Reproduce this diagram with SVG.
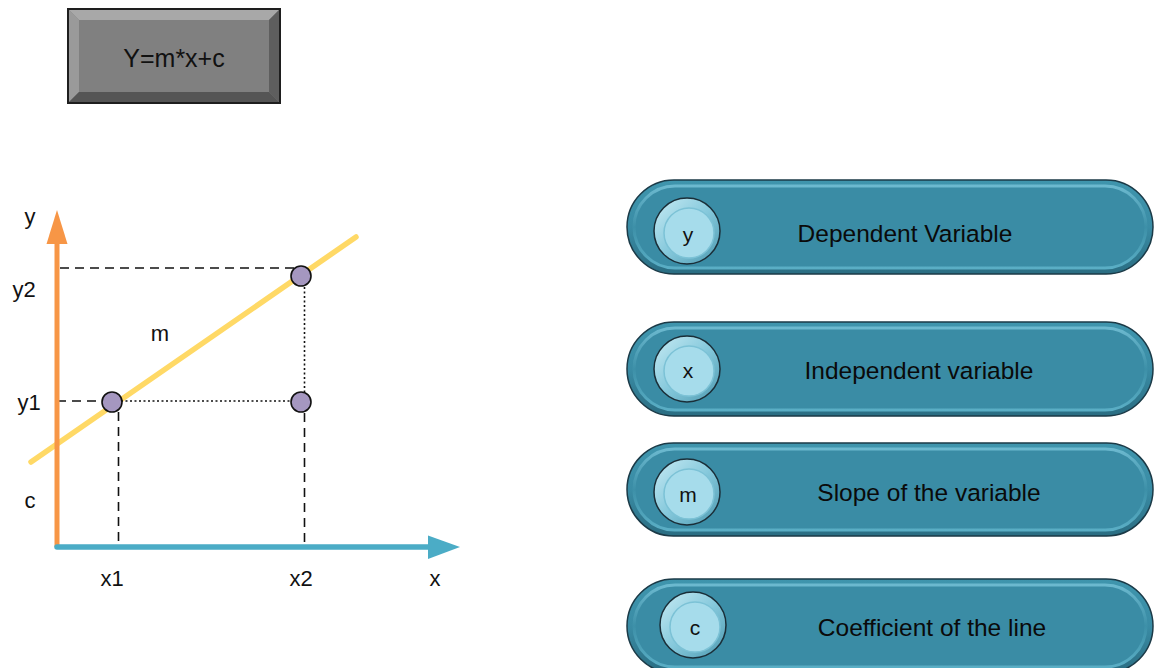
<svg xmlns="http://www.w3.org/2000/svg" width="1154" height="668" viewBox="0 0 1154 668">
<defs>
<style>
.lbl{font-family:"Liberation Sans",Arial,sans-serif;font-size:22px;fill:#111;text-anchor:middle;dominant-baseline:central}
.ptxt{font-family:"Liberation Sans",Arial,sans-serif;font-size:24.5px;fill:#0a0a0a;text-anchor:middle;dominant-baseline:central}
.ctxt{font-family:"Liberation Sans",Arial,sans-serif;font-size:21px;fill:#111;text-anchor:middle;dominant-baseline:central}
.dash{stroke:#111;stroke-width:1.6;stroke-dasharray:9 6;fill:none}
.dot{stroke:#111;stroke-width:1.6;stroke-dasharray:2 2.5;fill:none}
.pt{fill:#A597C0;stroke:#111;stroke-width:1.6}
.pill-out{fill:url(#pillRim);stroke:#1b3a47;stroke-width:1.5}
.pill-in{fill:#3A8CA5;stroke:url(#pillEdge);stroke-width:3}
.btn-out{fill:url(#btnRim);stroke:#1a2e38;stroke-width:1.5}
.btn-in{fill:#A6DCEB;stroke:#7cc2d6;stroke-width:1.5}
</style>
<linearGradient id="pillRim" x1="0" y1="0" x2="0" y2="1">
<stop offset="0" stop-color="#3f95ad"/>
<stop offset="0.5" stop-color="#3A8CA5"/>
<stop offset="1" stop-color="#2a6d82"/>
</linearGradient>
<linearGradient id="pillEdge" x1="0" y1="0" x2="0" y2="1">
<stop offset="0" stop-color="#6cb9cf"/>
<stop offset="0.5" stop-color="#3d90a8"/>
<stop offset="1" stop-color="#5aaec5"/>
</linearGradient>
<linearGradient id="btnRim" x1="0" y1="0" x2="1" y2="1">
<stop offset="0" stop-color="#c8ebf4"/>
<stop offset="0.5" stop-color="#86c9dc"/>
<stop offset="1" stop-color="#4c99b0"/>
</linearGradient>
</defs>
<rect width="1154" height="668" fill="#ffffff"/>

<g id="formula-box">
<rect x="68" y="9" width="212" height="94" fill="#7f7f7f" stroke="#1e1e1e" stroke-width="2"/>
<polygon points="69,10 279,10 269,20 79,20" fill="#a8a8a8"/>
<polygon points="69,10 79,20 79,92 69,102" fill="#9a9a9a"/>
<polygon points="279,10 279,102 269,92 269,20" fill="#5e5e5e"/>
<polygon points="69,102 279,102 269,92 79,92" fill="#555555"/>
<rect x="79" y="20" width="190" height="72" fill="#808080"/>
<text x="174" y="58" class="lbl" style="font-size:25px">Y=m*x+c</text>
</g>

<g id="fit-line">
<line x1="31" y1="462" x2="356" y2="237" stroke="#FFD966" stroke-width="5.5" stroke-linecap="round"/>
</g>

<g id="connectors">
<line x1="60" y1="268" x2="296" y2="268" class="dash"/>
<line x1="57" y1="401" x2="104" y2="401" class="dash"/>
<line x1="121" y1="401" x2="292" y2="401" class="dot"/>
<line x1="304.5" y1="287" x2="304.5" y2="392" class="dot"/>
<line x1="118.5" y1="412" x2="118.5" y2="546" class="dash"/>
<line x1="304.5" y1="413" x2="304.5" y2="546" class="dash"/>
</g>

<g id="y-axis">
<line x1="57" y1="547" x2="57" y2="243" stroke="#F79646" stroke-width="5"/>
<polygon points="46.5,244 67.5,244 57,210" fill="#F79646"/>
</g>
<g id="x-axis">
<line x1="57" y1="547" x2="430" y2="547" stroke="#4BACC6" stroke-width="5.5" stroke-linecap="round"/>
<polygon points="428,535.5 460,547 428,559" fill="#4BACC6"/>
</g>

<g id="points">
<circle id="p1" cx="112" cy="402" r="10" class="pt"/>
<circle id="p2" cx="301" cy="276" r="10" class="pt"/>
<circle id="p3" cx="301" cy="402" r="10" class="pt"/>
</g>

<g id="axis-labels">
<text x="30" y="216" class="lbl">y</text>
<text x="24" y="289" class="lbl">y2</text>
<text x="160" y="333" class="lbl">m</text>
<text x="29" y="402" class="lbl">y1</text>
<text x="30" y="500" class="lbl">c</text>
<text x="112" y="578" class="lbl">x1</text>
<text x="301" y="578" class="lbl">x2</text>
<text x="435" y="578" class="lbl">x</text>
</g>

<g id="pill-y">
<rect x="627" y="180" width="526" height="94" rx="47" class="pill-out"/>
<rect x="634" y="186" width="512" height="82" rx="41" class="pill-in"/>
<circle cx="687" cy="231" r="33" class="btn-out"/>
<circle cx="689" cy="233" r="25" class="btn-in"/>
<text x="688" y="234" class="ctxt">y</text>
<text x="905" y="233" class="ptxt">Dependent Variable</text>
</g>

<g id="pill-x">
<rect x="627" y="322" width="526" height="94" rx="47" class="pill-out"/>
<rect x="634" y="328" width="512" height="82" rx="41" class="pill-in"/>
<circle cx="687" cy="369" r="33" class="btn-out"/>
<circle cx="689" cy="371" r="25" class="btn-in"/>
<text x="688" y="370" class="ctxt">x</text>
<text x="919" y="370" class="ptxt">Independent variable</text>
</g>

<g id="pill-m">
<rect x="627" y="443" width="526" height="93" rx="46.5" class="pill-out"/>
<rect x="634" y="449" width="512" height="81" rx="40.5" class="pill-in"/>
<circle cx="687" cy="492" r="33" class="btn-out"/>
<circle cx="689" cy="494" r="25" class="btn-in"/>
<text x="688" y="494" class="ctxt">m</text>
<text x="929" y="492" class="ptxt">Slope of the variable</text>
</g>

<g id="pill-c">
<rect x="627" y="579" width="526" height="94" rx="47" class="pill-out"/>
<rect x="634" y="585" width="512" height="82" rx="41" class="pill-in"/>
<circle cx="693" cy="625" r="33" class="btn-out"/>
<circle cx="695" cy="627" r="25" class="btn-in"/>
<text x="695" y="627" class="ctxt">c</text>
<text x="932" y="627" class="ptxt">Coefficient of the line</text>
</g>
</svg>
